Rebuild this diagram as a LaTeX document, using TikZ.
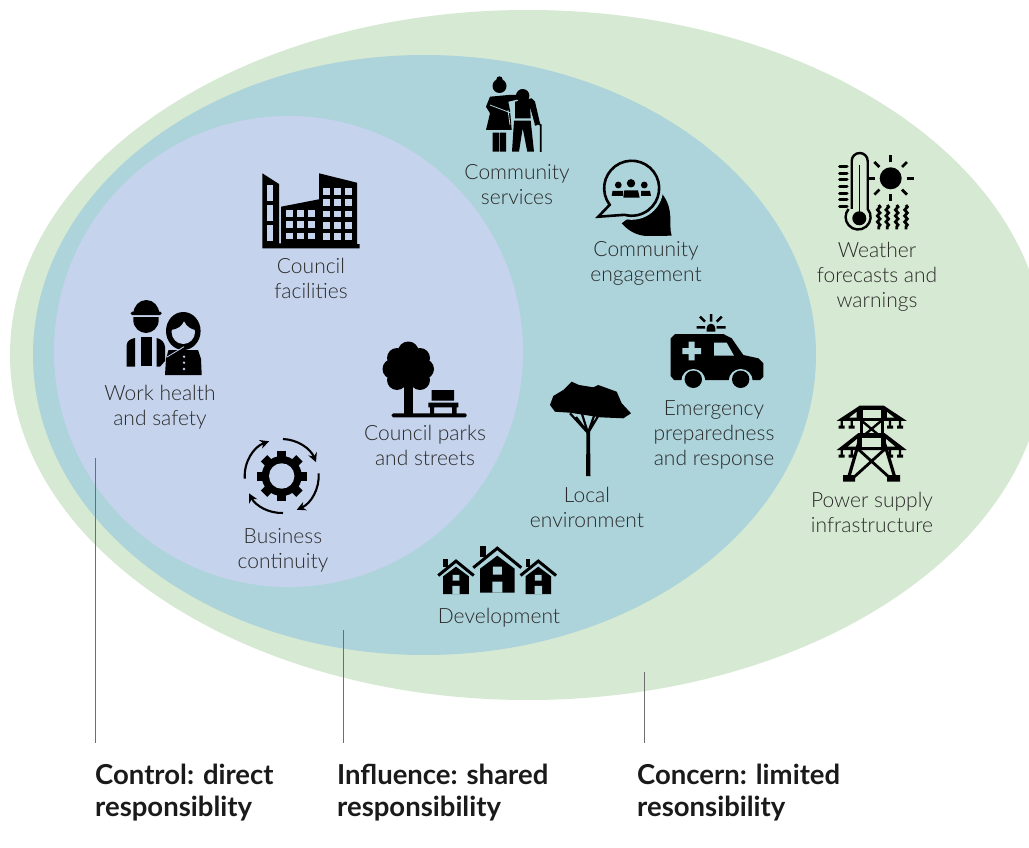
\documentclass[tikz,border=0pt]{standalone}
\usepackage{fontspec}
\setmainfont{Lato}
\newfontfamily\lightfont{Lato Light}
\usetikzlibrary{arrows.meta,decorations.pathmorphing}
\definecolor{concerncol}{HTML}{D6E9D2}
\definecolor{influencecol}{HTML}{ADD3DB}
\definecolor{controlcol}{HTML}{C5D3EC}
\definecolor{labelcol}{HTML}{2A2A2A}
\definecolor{headcol}{HTML}{1A1A1A}
\definecolor{leadercol}{HTML}{6E6E6E}

\begin{document}
\begin{tikzpicture}[x=1pt,y=-1pt,
	every node/.style={align=center},
	itemlabel/.style={font=\lightfont\fontsize{21}{25}\selectfont,text=labelcol,inner sep=0pt},
	headlabel/.style={font=\bfseries\fontsize{27.5}{32}\selectfont,text=headcol,align=left,anchor=north west,inner sep=0pt},
	leader/.style={draw=leadercol,line width=1pt},
	iconline/.style={draw=black,line width=2.6pt},
	iconfill/.style={fill=black}]
	\useasboundingbox (0,0) rectangle (1029,848);
	\clip (0,0) rectangle (1029,848);
	\fill[white] (0,0) rectangle (1029,848);
	% the three zones
	\fill[concerncol] (527.5,355) ellipse [x radius=517.5,y radius=345];
	\fill[influencecol] (424.5,355) ellipse [x radius=391.5,y radius=300];
	\fill[controlcol] (288.5,351.5) ellipse [x radius=234.5,y radius=235.5];

	% item labels
	\node[itemlabel] (servicesLabel) at (517,185) {Community\\services};
	\node[itemlabel] (engagementLabel) at (646,263) {Community\\engagement};
	\node[itemlabel] (facilitiesLabel) at (311,278.5) {Council\\facilities};
	\node[itemlabel] (safetyLabel) at (160,407) {Work health\\and safety};
	\node[itemlabel] (parksLabel) at (425,445.5) {Council parks\\and streets};
	\node[itemlabel] (continuityLabel) at (283,550) {Business\\continuity};
	\node[itemlabel] (environmentLabel) at (587,507.5) {Local\\environment};
	\node[itemlabel] (emergencyLabel) at (714,435) {Emergency\\preparedness\\and response};
	\node[itemlabel] (developmentLabel) at (499,618) {Development};
	\node[itemlabel] (weatherLabel) at (877,277) {Weather\\forecasts and\\warnings};
	\node[itemlabel] (powerLabel) at (872,512.5) {Power supply\\infrastructure};

	% heads and their leaders
	\node[headlabel] (controlHead) at (95,764) {Control: direct\\responsiblity};
	\node[headlabel] (influenceHead) at (337,764) {Influence: shared\\responsibility};
	\node[headlabel] (concernHead) at (637,764) {Concern: limited\\resonsibility};
	\coordinate (controlTop) at (95,458);
	\coordinate (controlEnd) at (95,743);
	\coordinate (influenceTop) at (343,630);
	\coordinate (influenceEnd) at (343,743);
	\coordinate (concernTop) at (644,672);
	\coordinate (concernEnd) at (644,743);
	\draw[leader] (controlTop) -- (controlEnd);
	\draw[leader] (influenceTop) -- (influenceEnd);
	\draw[leader] (concernTop) -- (concernEnd);

	% community services
	\fill[iconfill] (499.5,86) circle (7) (499.5,79.5) circle (3.2);
	\fill[iconfill] (490,96.7) -- (508.3,95) -- (518.3,95) -- (518.3,99.3) -- (508.3,101.7) -- (510,110) -- (511.7,130) -- (486,130) -- (490,113.3) -- (486,106.7) -- cycle;
	\draw[influencecol,line width=0.8pt] (490,105) -- (511.7,113.3) (508,110) -- (510,125);
	\fill[iconfill] (492.7,132.7) rectangle (499.3,151.7) (500,132.7) rectangle (506,151.7);
	\fill[iconfill] (522.7,95.7) circle (6.7);
	\fill[iconfill] (515,101.7) -- (531.7,98.3) -- (535,101.7) -- (540,123.3) -- (535,125) -- (530,106.7) -- (530.7,118.3) -- (515,118.3) -- cycle;
	\fill[iconfill] (514,120.7) -- (530.7,120.7) -- (534,151.7) -- (527.3,151.7) -- (522.7,128.3) -- (519,151.7) -- (512,151.7) -- cycle;
	\draw[black,line width=1.8pt] (535,125) -- (538,123.5) -- (540.7,125) -- (540.7,152);

	% community engagement
	\fill[iconfill] (661.7,193.3) .. controls (675,210) and (668,225) .. (671.7,235.7) -- (646,236) .. controls (634,235) and (627,229) .. (621.7,223.3) -- cycle;
	\fill[influencecol] (631.7,188.3) circle (31.5);
	\draw[iconline,fill=influencecol,line join=miter] (598.3,216.7) -- (609.7,204.8) arc [start angle=143,end angle=465,radius=27.5] -- cycle;
	\fill[iconfill] (618.3,185) circle (3.4) (631,183.3) circle (4.2) (644.3,185) circle (3.4);
	\fill[iconfill] (611.7,196) -- (612.5,191) -- (623,191) -- (623,196) -- cycle;
	\fill[iconfill] (623.3,197.7) -- (624.3,190.5) -- (638,190.5) -- (639.7,197.7) -- cycle;
	\fill[iconfill] (641,196) -- (641,191) -- (650,191) -- (651,196) -- cycle;

	% council facilities
	\fill[iconfill] (262.3,173.3) -- (279,184) -- (279,243.3) -- (281,243.3) -- (281,206.7) -- (319,199.3) -- (319,173.3) -- (357,182.7) -- (357,244) -- (359.7,244) -- (359.7,248.3) -- (262.3,248.3) -- cycle;
	\foreach \wx in {326.7,337.7,348.7}
		\foreach \wy in {191.3,202.7,214,225.3,236.7}
			\fill[controlcol] (\wx-3.3,\wy-3.3) rectangle (\wx+3.3,\wy+3.3);
	\foreach \wx in {289.3,300.3,311.3}
		\foreach \wy in {213.3,224.7,236}
			\fill[controlcol] (\wx-3.3,\wy-3.3) rectangle (\wx+3.3,\wy+3.3);
	\foreach \wy in {185.3,205.3,225.3}
		\fill[controlcol] (267.3,\wy) rectangle (273.3,\wy+15.4);

	% work health and safety
	\fill[iconfill] (133.3,314) arc [start angle=180,end angle=360,x radius=13,y radius=14] -- cycle;
	\fill[iconfill, rounded corners=1.5pt] (130.7,311.7) rectangle (161.7,315);
	\fill[iconfill] (133.3,317) -- (158.7,317) -- (158.7,320) .. controls (158.7,328) and (152,333) .. (146,333) .. controls (140,333) and (133.3,328) .. (133.3,320) -- cycle;
	\fill[iconfill] (126.7,366.7) -- (126.7,345) .. controls (127,341) and (130,339) .. (135,338) -- (135,366.7) -- cycle;
	\fill[iconfill] (140.7,336.7) -- (151.7,336.7) -- (151.7,366) -- (140.7,366) -- cycle;
	\fill[iconfill] (156.7,338) .. controls (161,339) and (164.7,342) .. (165,347) -- (165,361) -- (160,366.7) -- (156.7,366.7) -- cycle;
	\fill[iconfill] (183.3,331) ellipse [x radius=17.3,y radius=19];
	\fill[iconfill] (165,375) -- (166,359) -- (168.5,350) -- (198,350) -- (201,359) -- (201.7,375) -- cycle;
	\fill[controlcol] (183.3,332) ellipse [x radius=11.7,y radius=12];
	\fill[iconfill] (171,330) .. controls (178,329) and (182,326) .. (184,321) .. controls (187,327) and (191,329) .. (195.5,330) -- (196,318) -- (171,318) -- cycle;
	\draw[controlcol,line width=0.8pt] (167,357) -- (184,346.7);
	\fill[controlcol] (184,356.7) circle (1.3) (184,362.7) circle (1.3) (184,369) circle (1.3);

	% council parks and streets
	\foreach \cx/\cy/\cr in {408.3/352/10.5,397/358/10,420/358/10,392.5/369/10,424/369/10,397/380/10,420/380/10,408.3/368/17}
		\fill[iconfill] (\cx,\cy) circle (\cr);
	\fill[iconfill] (404,385) rectangle (412.7,414);
	\fill[iconfill,rounded corners=1.5pt] (391.7,413.3) rectangle (466.7,417.3);
	\fill[iconfill] (431.7,390) rectangle (454,400.7) (428.3,402.7) rectangle (458.3,407.3) (430,407) rectangle (434,414) (452,407) rectangle (456.5,414);

	% business continuity
	\fill[iconfill] (281.7,476) circle (20);
	\foreach \ang in {0,45,...,315}
		\fill[iconfill,shift={(281.7,476)},rotate=\ang] (-4.5,-25) rectangle (4.5,-17);
	\fill[controlcol] (281.7,476) circle (12.7);
	\foreach \startang/\endang in {-88/-22,-4/66,88/152,176/250}
		\draw[black,line width=2.1pt,-{Stealth[length=9pt,width=9pt]},shift={(281.7,476)}] (\startang:37) arc [start angle=\startang,end angle=\endang,radius=37];

	% local environment
	\fill[iconfill] (550,405) -- (553.3,396) -- (563.3,390) -- (571.7,381.7) -- (579,385) -- (593.3,387.3) -- (598.3,385) -- (616.7,391.7) -- (621.7,403.3) -- (631,413.3) -- (623.3,418.3) -- (600,417.3) -- (570,412.7) -- (555,411.7) -- cycle;
	\fill[iconfill] (586,476) -- (590.5,476) -- (590,432) -- (586.5,432) -- cycle;
	\draw[black,line width=2.2pt] (588,433) -- (570,413.3) (588,433) -- (581.7,413) (588,433) -- (595,413) (588,433) -- (600,413) (588,433) -- (576,417);

	% emergency preparedness and response
	\fill[iconfill] (670.7,338.3) -- (675,334) -- (723.3,334) -- (731.7,338.3) -- (743.3,355) -- (758.3,358.3) -- (763.3,363.3) -- (763.3,376.7) -- (760,380) -- (674,380) -- (670.7,376) -- cycle;
	\fill[influencecol] (693.3,381) circle (12) (740.7,381) circle (12);
	\fill[iconfill] (693.3,379.3) circle (8.7) (740.7,379.3) circle (8.7);
	\fill[influencecol] (714,342.7) -- (726.7,342.7) -- (734,355.7) -- (714,355.7) -- cycle;
	\fill[influencecol] (688.7,341.7) rectangle (694.7,360.3) (682.4,348) rectangle (701,354);
	\fill[iconfill] (706.7,331.7) -- (706.7,328) arc [start angle=180,end angle=360,radius=4.3] -- (715.3,331.7) -- cycle;
	\draw[black,line width=2.5pt] (711,314) -- (711,321.7) (700,316.7) -- (705,321.7) (721.7,316.7) -- (716.7,321.7) (696.7,327.3) -- (705,327.3) (716.7,327.3) -- (725.7,327.3);

	% development
	\foreach \hx/\hy/\hs in {456/560/0.74,497.3/546.7/1,538.3/560/0.74} {
		\begin{scope}[shift={(\hx,\hy)},scale=\hs]
			\fill[iconfill] (-17.3,-1) rectangle (-11,10);
			\fill[iconfill] (-17.3,46) -- (-17.3,22) -- (0,9) -- (17.3,22) -- (17.3,46) -- cycle;
			\draw[black,line width=3pt] (-24,21) -- (0,1.5) -- (24,21);
			\fill[influencecol] (-4.5,20) rectangle (4.5,28) (-5,35) rectangle (5,46);
		\end{scope}
	}

	% weather forecasts and warnings
	\draw[black,line width=2.4pt] (851.7,209) -- (851.7,161) arc [start angle=180,end angle=360,radius=8] -- (867.7,209) arc [start angle=-40,end angle=220,radius=12.5];
	\fill[iconfill] (859.3,218.3) circle (7);
	\draw[black,line width=1pt] (859.3,165) -- (859.3,212);
	\foreach \ty in {166.7,173.3,180,186.7,193.3,200,206.7}
		\draw[black,line width=3pt,line cap=round] (839.5,\ty) -- (847,\ty);
	\fill[iconfill] (890.7,178.3) circle (11);
	\foreach \ang in {0,45,...,315}
		\draw[black,line width=2.8pt,shift={(890.7,178.3)}] (\ang:16) -- (\ang:23);
	\draw[black,line width=2.4pt] (868,178.3) -- (874,178.3);
	\foreach \wx in {878.7,887.3,896.7,906}
		\draw[black,line width=2.8pt,decorate,decoration={snake,segment length=6pt,amplitude=1.3pt}] (\wx,205) -- (\wx,229.5);

	% power supply infrastructure
	\fill[iconfill] (860,405.5) -- (883.5,405.5) -- (906.7,420.8) -- (836.7,420.8) -- cycle;
	\fill[concerncol] (863,409.5) -- (880.5,409.5) -- (880.5,417.5) -- (863,417.5) -- cycle;
	\fill[concerncol] (856.5,412) -- (856.5,417.5) -- (849.5,417.5) -- cycle (887,412) -- (887,417.5) -- (894,417.5) -- cycle;
	\draw[black,line width=3pt] (861,420) -- (861,436) (882,420) -- (882,436);
	\draw[black,line width=2.4pt] (862,421) -- (881,437) (881,421) -- (862,437);
	\fill[iconfill] (858.5,433) -- (884.5,433) -- (906.7,450) -- (836.7,450) -- cycle;
	\fill[concerncol] (862,437.5) -- (881,437.5) -- (881,446.5) -- (862,446.5) -- cycle;
	\fill[concerncol] (857,439) -- (857,446.5) -- (848,446.5) -- cycle (886,439) -- (886,446.5) -- (895,446.5) -- cycle;
	\draw[black,line width=3.2pt] (861,435) -- (848.5,478) (882,435) -- (895,478);
	\draw[black,line width=2.8pt] (858,449) -- (890,478) (885,449) -- (853,478);
	\fill[iconfill] (843,475) rectangle (855,481.7) (887,475) rectangle (900,481.7);
	\foreach \ix in {841.7,851.7,890,900}
		\fill[iconfill] (\ix-1.2,420) rectangle (\ix+1.2,427) (\ix-3,425.5) rectangle (\ix+3,428.5) (\ix-1.2,449) rectangle (\ix+1.2,456) (\ix-3,454.5) rectangle (\ix+3,457.5);
\end{tikzpicture}
\end{document}
